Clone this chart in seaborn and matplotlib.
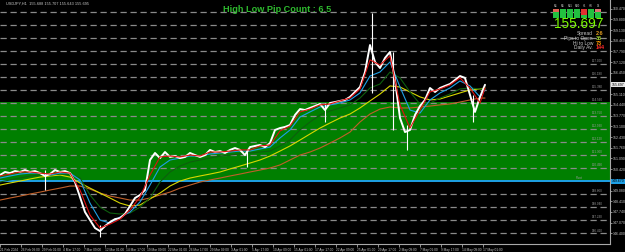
import numpy as np
import pandas as pd
import matplotlib
matplotlib.use("Agg")
import matplotlib.pyplot as plt
import seaborn as sns
from matplotlib.patches import Rectangle

# ---------------- data (USDJPY H1) ----------------
# close price sampled every ~15 H1 bars
close = [150.05, 150.24, 150.17, 150.30, 150.24, 150.36, 150.24, 150.30, 150.17, 149.99,
         150.11, 150.36, 150.24, 150.30, 150.17, 149.61, 148.67, 147.73, 147.23, 146.73,
         146.54, 146.85, 147.10, 147.29, 147.35, 147.61, 148.11, 148.61, 148.80, 149.11,
         150.99, 151.43, 151.11, 151.49, 151.18, 151.24, 151.11, 151.18, 151.43, 151.30,
         151.18, 151.30, 151.62, 151.49, 151.55, 151.43, 151.62, 151.74, 151.62, 151.30,
         151.80, 151.87, 151.93, 151.80, 152.05, 152.87, 152.99, 153.06, 153.18, 153.81,
         154.18, 154.12, 154.25, 154.37, 154.50, 154.12, 154.56, 154.62, 154.69, 154.75,
         154.94, 155.25, 155.56, 156.50, 158.19, 157.13, 156.75, 157.38, 157.76, 156.00,
         153.62, 152.74, 152.87, 153.81, 154.37, 154.75, 155.50, 155.25, 155.50, 155.63,
         155.75, 156.00, 156.25, 156.13, 155.06, 154.00, 154.94, 155.70]

# moving averages sampled every ~30 bars
ma_fast = [149.99, 150.11, 150.24, 150.24, 150.17, 150.11, 150.24, 150.17, 149.11, 147.54,
           146.73, 146.98, 147.29, 147.86, 148.67, 150.05, 151.18, 151.24, 151.18, 151.30,
           151.24, 151.49, 151.49, 151.55, 151.62, 151.62, 151.87, 151.93, 152.81, 153.12,
           154.00, 154.18, 154.44, 154.50, 154.69, 154.87, 155.44, 157.26, 156.94, 157.51,
           154.44, 152.99, 154.12, 155.25, 155.44, 155.69, 156.13, 155.50, 154.56, 155.50]
ma_mid = [149.86, 149.99, 150.11, 150.17, 150.17, 150.05, 150.17, 150.17, 149.74, 148.29,
          147.23, 147.04, 147.42, 147.73, 148.36, 149.42, 150.55, 150.99, 151.11, 151.24,
          151.24, 151.37, 151.43, 151.49, 151.55, 151.55, 151.68, 151.80, 152.37, 152.87,
          153.68, 154.00, 154.31, 154.44, 154.56, 154.75, 155.19, 156.25, 156.50, 157.13,
          155.56, 154.12, 153.93, 154.75, 155.19, 155.50, 155.94, 155.63, 154.94, 155.38]
ma_50 = [149.61, 149.74, 149.86, 149.99, 150.05, 150.05, 150.11, 150.11, 149.86, 148.80,
         148.04, 147.67, 147.61, 147.67, 148.04, 148.61, 149.61, 150.24, 150.61, 150.86,
         150.99, 151.11, 151.24, 151.30, 151.37, 151.43, 151.49, 151.55, 151.87, 152.24,
         152.87, 153.37, 153.81, 154.06, 154.25, 154.44, 154.87, 155.50, 155.75, 156.50,
         156.13, 155.25, 154.50, 154.56, 154.87, 155.12, 155.44, 155.50, 155.44, 155.44]
ma_100 = [149.42, 149.55, 149.67, 149.80, 149.92, 149.99, 150.05, 149.92, 149.55, 149.23,
          148.92, 148.61, 148.29, 148.11, 148.17, 148.55, 148.92, 149.36, 149.67, 149.86,
          149.99, 150.11, 150.24, 150.43, 150.61, 150.80, 150.99, 151.24, 151.55, 151.87,
          152.24, 152.62, 152.99, 153.31, 153.62, 153.87, 154.25, 154.69, 155.12, 155.63,
          155.56, 155.25, 154.94, 154.75, 154.81, 155.00, 155.19, 155.38, 155.44, 155.50]
ma_200 = [148.48, 148.61, 148.73, 148.86, 148.98, 149.11, 149.23, 149.36, 149.36, 149.17,
          148.92, 148.73, 148.61, 148.48, 148.48, 148.61, 148.80, 148.98, 149.23, 149.42,
          149.61, 149.74, 149.86, 149.99, 150.11, 150.24, 150.36, 150.49, 150.68, 150.99,
          151.30, 151.49, 151.74, 152.05, 152.37, 152.74, 153.37, 153.87, 154.18, 154.31,
          154.25, 154.25, 154.31, 154.37, 154.44, 154.50, 154.62, 154.75, 154.87, 154.87]

# notable wicks (bar index, high, low)
wick_bar = [137, 305, 753, 991, 1134, 1198, 1241, 1442]
wick_hi = [150.36, 146.92, 151.62, 154.56, 160.20, 157.76, 153.18, 155.06]
wick_lo = [149.11, 146.16, 150.55, 153.37, 155.19, 152.87, 151.62, 153.37]

# horizontal levels
levels = [146.41, 147.23, 148.04, 148.86, 150.49, 151.30, 152.12, 152.93, 153.75,
          154.56, 155.38, 156.19, 157.00, 157.82, 158.63, 159.45, 160.26]
labelled_levels = [146.41, 147.23, 148.04, 148.86, 150.49, 151.30, 152.12, 152.93, 153.75,
                   154.56, 155.38, 156.19, 157.00]
pivot = 149.67
zone_low, zone_high = 149.67, 154.60
last_price = 155.697

date_labels = ["21 Feb 2024", "26 Feb 09:00", "29 Feb 01:00", "4 Mar 17:00", "7 Mar 09:00",
               "12 Mar 01:00", "14 Mar 17:00", "19 Mar 09:00", "22 Mar 01:00", "26 Mar 17:00",
               "29 Mar 09:00", "3 Apr 01:00", "5 Apr 17:00", "10 Apr 09:00", "15 Apr 01:00",
               "17 Apr 17:00", "22 Apr 09:00", "25 Apr 01:00", "29 Apr 17:00", "2 May 09:00",
               "7 May 01:00", "9 May 17:00", "14 May 09:00", "17 May 01:00"]
price_ticks = [146.400, 147.070, 147.740, 148.410, 149.080, 150.420, 151.090,
               151.760, 152.430, 153.100, 153.770, 154.440, 155.110, 156.450,
               157.120, 157.790, 158.460, 159.130, 159.800, 160.470]

info_labels = ["Spread", "Pips to Open", "Hi to Low", "Daily Av."]
info_values = ["2.6", "35", "73", "144"]
info_colors = ["#E8A020", "#9ACD32", "#FF9A00", "#FF2A2A"]
tf_labels = ["M1", "M5", "M15", "M30", "H1", "H4", "D1"]

# ---------------- layout ----------------
W, H = 625, 252
BAR_PX = 21 / 64.0
STEP = 5 / BAR_PX
bars = np.arange(len(close)) * STEP
ma_bars = np.r_[bars[::2], bars[-1]]

sns.set_theme(style="dark", rc={"axes.facecolor": "black", "figure.facecolor": "black"})
plt.rcParams['font.family'] = ['Liberation Sans', 'DejaVu Sans']

fig = plt.figure(figsize=(W / 100, H / 100), dpi=100)
ax = fig.add_axes([0, 1 - 244 / H, 610 / W, 244 / H])
ax.set_facecolor("black")
ax.set_xlim(0, 610 / BAR_PX)
ax.set_ylim(145.73, 161.01)
ax.grid(False)

ax.axhspan(zone_low, zone_high, color="#007F00", zorder=0, lw=0)
for lv in levels:
    ax.axhline(lv, color="#8A8A8A", lw=0.9, ls=(0, (5, 3)), zorder=1)
for lv in labelled_levels:
    ax.text(0.988, lv + 0.04, f"{lv:.3f}", transform=ax.get_yaxis_transform(),
            ha="right", va="bottom", fontsize=2.2, color="#9A9A9A", zorder=2)
ax.axhline(pivot, color="#1EA0E6", lw=1.4, zorder=2)
ax.text(0.955, pivot + 0.04, "Pivot", transform=ax.get_yaxis_transform(),
        ha="right", va="bottom", fontsize=2.2, color="#9A9A9A")

ma_df = pd.DataFrame({"bar": ma_bars, "ma200": ma_200, "ma100": ma_100,
                      "ma50": ma_50, "mid": ma_mid, "fast": ma_fast})
sns.lineplot(data=ma_df, x="bar", y="ma200", ax=ax, color="#C0602A", lw=0.8, zorder=3)
sns.lineplot(data=ma_df, x="bar", y="ma100", ax=ax, color="#D8D800", lw=0.8, zorder=3)
sns.lineplot(data=ma_df, x="bar", y="ma50", ax=ax, color="#0E5E0E", lw=0.8, zorder=3)
sns.lineplot(data=ma_df, x="bar", y="mid", ax=ax, color="#1EA0E6", lw=0.8, zorder=3)

px_df = pd.DataFrame({"bar": bars, "close": close})
ax.vlines(wick_bar, wick_lo, wick_hi, color="white", lw=0.8, zorder=4)
sns.lineplot(data=px_df, x="bar", y="close", ax=ax, color="white", lw=1.4, zorder=4)
sns.lineplot(data=ma_df, x="bar", y="fast", ax=ax, color="#E01010", lw=0.8, zorder=5)

ax.set_xlabel("")
ax.set_ylabel("")

# axes decoration
for s in ["left", "top"]:
    ax.spines[s].set_visible(False)
for s in ["right", "bottom"]:
    ax.spines[s].set_color("#A8A8A8")
    ax.spines[s].set_linewidth(0.8)
ax.set_xticks(np.arange(len(date_labels)) * 64)
ax.set_xticklabels(date_labels, ha="left")
ax.yaxis.tick_right()
ax.set_yticks(price_ticks)
ax.set_yticklabels([f"{p:.3f}" for p in price_ticks])
ax.tick_params(axis="x", colors="#C8C8C8", labelsize=2.3, length=2, width=0.5, pad=1,
               bottom=True)
ax.tick_params(axis="y", colors="#C8C8C8", labelsize=2.5, length=1.5, width=0.5, pad=0.8,
               right=True, left=False)

ax.text(1.003, last_price, f"{last_price:.3f}", transform=ax.get_yaxis_transform(),
        ha="left", va="center", fontsize=2.5, color="black",
        bbox=dict(boxstyle="square,pad=0.15", fc="#E8E8E8", ec="none"), clip_on=False)
ax.text(1.003, pivot, f"{pivot:.3f}", transform=ax.get_yaxis_transform(),
        ha="left", va="center", fontsize=2.5, color="black",
        bbox=dict(boxstyle="square,pad=0.15", fc="#1EA0E6", ec="none"), clip_on=False)

def fx(x):
    return x / W

def fy(y):
    return 1 - y / H

fig.text(fx(6), fy(4), "USDJPY,H1  155.688 155.707 155.643 155.695", fontsize=2.8,
         color="#C8C8C8", va="center", ha="left")
fig.text(fx(277), fy(10), "High Low Pip Count : 6.5", fontsize=6.6, weight="bold",
         color="#2EBA2E", ha="center", va="center")

# info panel
cell_cols = [["#E06050", "#22C040", "#22C040", "#22C040", "#E03030", "#22C040", "#E07070"],
             ["#22C040", "#22C040", "#22C040", "#22C040", "#E03030", "#22C040", "#22C040"],
             ["#22C040", "#22C040", "#22C040", "#22C040", "#22C040", "#22C040", "#22C040"]]
for j, lab in enumerate(tf_labels):
    fig.text(fx(556 + 7 * j), fy(6.0), lab, fontsize=1.9, color="#C8C8C8",
             ha="center", va="center")
for r, row in enumerate(cell_cols):
    for j, c in enumerate(row):
        fig.patches.append(Rectangle((fx(553 + 7 * j), fy(11.5 + 3 * r)), fx(6.3), 2.4 / H,
                                     transform=fig.transFigure, fc=c, ec="none"))
fig.text(fx(603), fy(24.0), f"{last_price:.3f}", fontsize=9.8, color="#7CFC00",
         ha="right", va="center")
for k, (lab, val, col) in enumerate(zip(info_labels, info_values, info_colors)):
    yy = 33.5 + 4.8 * k
    fig.text(fx(593), fy(yy), lab, fontsize=3.5, color="#C8C8C8", ha="right", va="center")
    fig.text(fx(596), fy(yy), val, fontsize=3.9, color=col, ha="left", va="center",
             weight="bold")

fig.savefig("out.png", dpi=100, facecolor="black")
